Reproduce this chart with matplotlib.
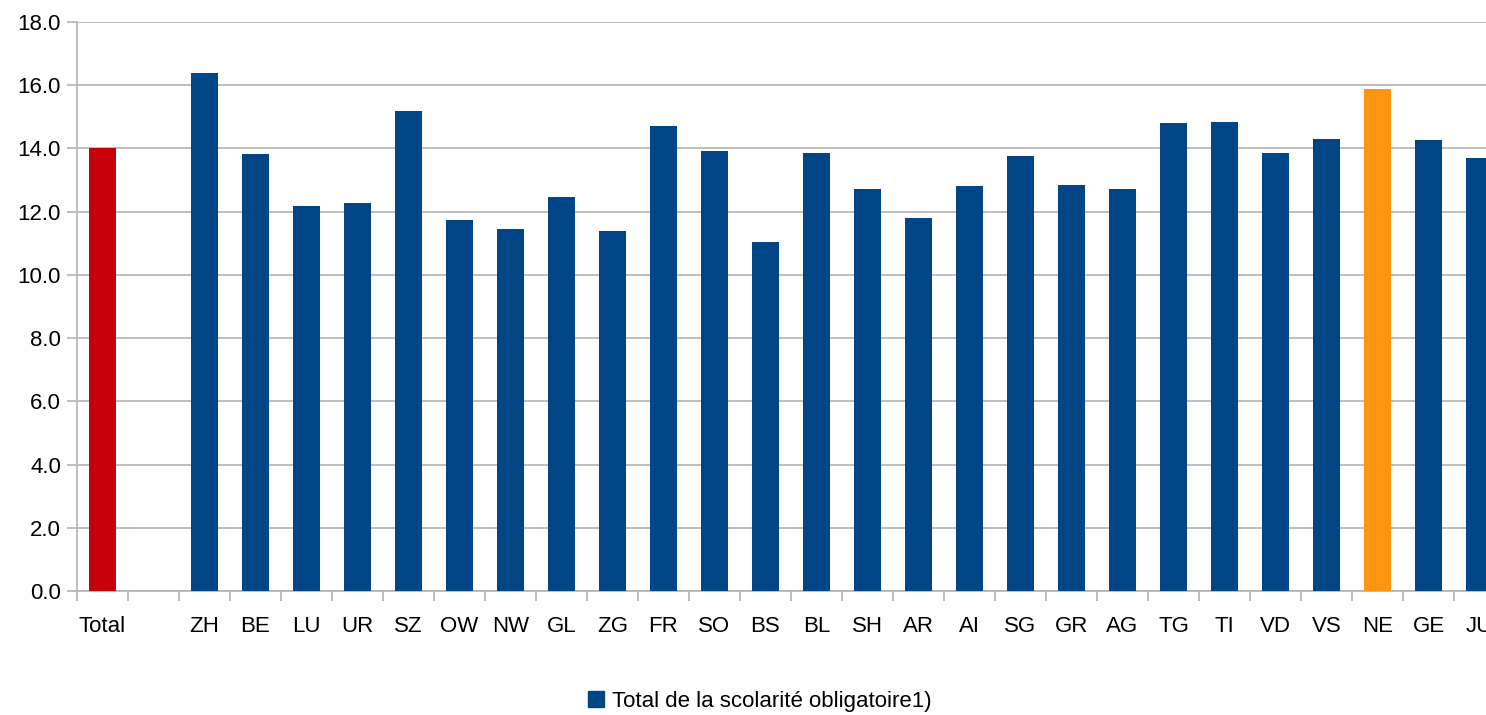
import matplotlib.pyplot as plt
from matplotlib.patches import Patch
import numpy as np

plt.rcParams['font.family'] = ['Liberation Sans', 'DejaVu Sans']

# cantons (blank slot after Total is part of the category axis)
cantons = ["Total", "", "ZH", "BE", "LU", "UR", "SZ", "OW", "NW", "GL", "ZG",
           "FR", "SO", "BS", "BL", "SH", "AR", "AI", "SG", "GR", "AG",
           "TG", "TI", "VD", "VS", "NE", "GE", "JU"]
values = [14.0, np.nan, 16.38, 13.82, 12.17, 12.27, 15.18, 11.73, 11.45, 12.46, 11.38,
          14.70, 13.91, 11.03, 13.85, 12.71, 11.79, 12.80, 13.77, 12.83, 12.71,
          14.80, 14.83, 13.85, 14.31, 15.87, 14.27, 13.70]
series_label = "Total de la scolarité obligatoire1)"

BLUE = "#004586"
RED = "#C5000B"
ORANGE = "#FF950E"
GRID = "#b3b3b3"

colors = []
for c in cantons:
    if c == "Total":
        colors.append(RED)
    elif c == "NE":
        colors.append(ORANGE)
    else:
        colors.append(BLUE)

fig = plt.figure(figsize=(14.86, 7.15), dpi=100)
# axis runs past the right border, last bar is clipped like in the source
ax = fig.add_axes([77 / 1486, 124 / 715, 1428 / 1486, 569 / 715])

x = np.arange(len(cantons))
ax.bar(x, np.nan_to_num(values), width=0.51, color=colors, zorder=3)

ax.set_xlim(-0.5, len(cantons) - 0.5)
ax.set_ylim(0, 18)
ax.set_yticks(np.arange(0, 18.1, 2))
ax.set_yticklabels([f"{v:.1f}" for v in np.arange(0, 18.1, 2)], fontsize=16)
ax.yaxis.grid(True, color=GRID, linewidth=1.2, zorder=0)

ax.set_xticks(x)
ax.set_xticklabels(cantons, fontsize=16)
ax.set_xticks(np.arange(-0.5, len(cantons), 1), minor=True)
ax.tick_params(axis="x", which="major", length=0, pad=18)
ax.tick_params(axis="x", which="minor", length=7.5, color=GRID, width=1.2)
ax.tick_params(axis="y", length=7.5, color=GRID, width=1.2, pad=4)

for s in ["top", "right"]:
    ax.spines[s].set_visible(False)
for s in ["left", "bottom"]:
    ax.spines[s].set_color(GRID)
    ax.spines[s].set_linewidth(1.2)

fig.legend(handles=[Patch(color=BLUE, label=series_label)], loc="center",
           bbox_to_anchor=(760 / 1486, 1 - 701 / 715), frameon=False,
           fontsize=16, handlelength=0.7, handleheight=0.7, handletextpad=0.4)

fig.savefig("out.png", dpi=100)
